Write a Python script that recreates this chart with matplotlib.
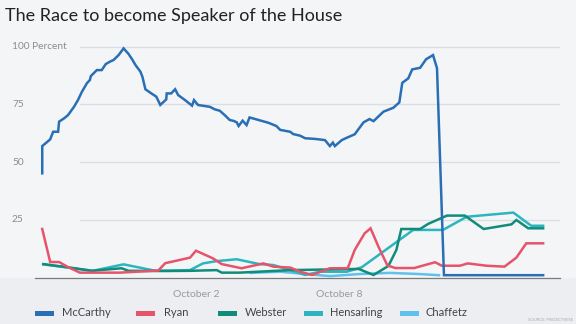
import matplotlib

matplotlib.use("Agg")

import matplotlib.pyplot as plt
from matplotlib.patches import Rectangle
from matplotlib.transforms import blended_transform_factory

plt.rcParams["font.family"] = ["Lato", "DejaVu Sans"]

# hours since the race opened (Sept 25, ~13:00) and implied chance in percent
mccarthy_hours = [0, 0, 8, 11, 16, 17, 22, 26, 32, 36, 40, 45, 48, 49, 55, 60, 64, 68, 72, 77,
                  82, 87, 91, 94, 99, 101, 104, 110, 115, 119, 125, 125.5, 130, 134, 137, 144,
                  151, 153, 157, 169, 174, 179, 184, 189, 193, 196, 198, 202, 206, 209, 218,
                  228, 236, 240, 250, 253, 260, 265, 275, 285, 290, 293, 295, 302, 307, 315,
                  324, 330, 334, 344, 354, 360, 363, 369, 373, 381, 387, 394, 398, 405, 505]
mccarthy = [45.1, 56.9, 59.8, 63.1, 63.1, 67.5, 68.9, 70.3, 73.9, 76.8, 80.4, 84.1, 85.5, 87.2,
            89.8, 89.8, 92.4, 93.4, 94.2, 96.3, 99.2, 96.8, 94.2, 92.0, 89.1, 86.9, 81.5, 79.7,
            78.3, 74.7, 77.1, 79.7, 79.7, 81.5, 79.0, 76.8, 74.4, 76.8, 74.7, 73.9, 72.8, 72.2,
            70.3, 68.2, 67.8, 67.2, 65.6, 67.9, 66.0, 69.3, 68.2, 67.0, 65.6, 63.9, 63.1, 62.1,
            61.4, 60.3, 60.0, 59.5, 56.9, 58.4, 56.9, 59.5, 60.5, 62.0, 67.2, 68.6, 67.7, 71.8,
            73.5, 75.8, 84.3, 86.2, 90.1, 90.8, 94.5, 96.3, 90.6, 1.0, 1.0]

ryan_hours = [0, 8, 17, 26, 38, 78, 117, 124, 149, 155, 172, 181, 201, 223, 233, 250, 260, 272,
              290, 308, 315, 325, 331, 339, 348, 356, 375, 396, 403, 421, 429, 448, 466, 478,
              488, 505]
ryan = [21.0, 6.7, 6.7, 4.5, 2.1, 2.1, 3.0, 6.2, 8.6, 11.6, 8.3, 5.8, 4.0, 6.1, 4.7, 4.3, 2.5,
        1.1, 4.0, 4.0, 11.9, 19.1, 21.3, 13.3, 5.2, 4.1, 4.1, 6.6, 5.1, 5.1, 6.1, 5.1, 4.7, 8.6,
        14.8, 14.8]

webster_hours = [1, 26, 50, 80, 87, 124, 149, 176, 181, 199, 250, 319, 334, 349, 357, 362, 381,
                 389, 408, 426, 445, 473, 478, 490, 505]
webster = [5.8, 4.4, 2.9, 4.0, 2.9, 2.8, 2.9, 3.2, 2.1, 2.1, 3.2, 3.7, 1.1, 5.0, 11.9, 21.0,
           21.0, 23.2, 26.8, 26.8, 21.0, 23.0, 24.9, 21.3, 21.3]

hensarling_hours = [1, 51, 82, 114, 149, 162, 176, 196, 219, 233, 250, 265, 280, 307, 322, 374,
                    404, 428, 475, 493, 505]
hensarling = [5.7, 2.9, 5.7, 2.9, 3.2, 6.1, 7.1, 7.9, 5.8, 5.4, 3.2, 1.1, 2.5, 2.5, 4.4, 20.6,
              20.6, 26.3, 28.1, 22.4, 22.4]

chaffetz_hours = [210, 240, 265, 290, 320, 350, 380, 400]
chaffetz = [2.0, 2.5, 1.5, 0.6, 1.5, 2.0, 1.5, 1.0]

names = ["McCarthy", "Ryan", "Webster", "Hensarling", "Chaffetz"]
colors = ["#2a6fb5", "#e6546b", "#118c7b", "#2bb6bf", "#5fc1ec"]

y_ticks = [25, 50, 75, 100]
y_labels = ["25", "50", "75", "100 Percent"]
x_ticks = [155, 299]
x_labels = ["October 2", "October 8"]

W, H = 576, 324
fig = plt.figure(figsize=(W / 100, H / 100), dpi=100)
fig.patch.set_facecolor("#f4f5f7")
# lower band behind the date labels and legend
fig.patches.append(Rectangle((0, 0), 1, (H - 278) / H, transform=fig.transFigure,
                             facecolor="#eceef1", edgecolor="none", zorder=-5))

left, right = 35 / W, 560 / W
bottom = (H - 277.5) / H
ax = fig.add_axes([left, bottom, right - left, 240.2 / H])
ax.set_facecolor("none")
ax.set_xlim(-7.3, 522)
ax.set_ylim(0, 104)

label_tr = blended_transform_factory(fig.transFigure, ax.transData)
for v, lab in zip(y_ticks, y_labels):
    ax.axhline(v, xmin=45 / 525, xmax=1, color="#dcdde0", linewidth=0.9, zorder=1)
    ax.text(12 / W, v, lab, transform=label_tr, fontsize=7.3, color="#8c8c8c",
            va="center", ha="left")

series = [
    (chaffetz_hours, chaffetz, 4),
    (hensarling_hours, hensarling, 3),
    (webster_hours, webster, 2),
    (ryan_hours, ryan, 1),
    (mccarthy_hours, mccarthy, 0),
]
for hrs, vals, i in series:
    ax.plot(hrs, vals, color=colors[i], linewidth=1.8, solid_joinstyle="miter", zorder=3 + (4 - i))

for s in ["top", "right", "left"]:
    ax.spines[s].set_visible(False)
ax.spines["bottom"].set_color("#7a7a7a")
ax.spines["bottom"].set_linewidth(0.9)
ax.set_yticks([])
ax.set_xticks(x_ticks)
ax.set_xticklabels(x_labels, fontsize=7.5, color="#9a9a9a")
ax.tick_params(axis="x", length=0, pad=9)

fig.text(5 / W, 1 - 16 / H, "The Race to become Speaker of the House", fontsize=13,
         color="#222222", va="center", ha="left")

swatch_x = [35, 136, 218, 304, 400]
label_x = [62, 164, 245, 330, 426]
ly = 313
for i, name in enumerate(names):
    fig.patches.append(Rectangle((swatch_x[i] / W, 1 - (ly + 2.5) / H), 19 / W, 5 / H,
                                 transform=fig.transFigure, facecolor=colors[i],
                                 edgecolor="none", zorder=2))
    fig.text(label_x[i] / W, 1 - ly / H, name, fontsize=8, color="#444444",
             va="center", ha="left")

fig.text(573 / W, 1 - 320 / H, "SOURCE: PREDICTWISE", fontsize=3, color="#aaaaaa",
         va="center", ha="right")

fig.savefig("out.png", dpi=100, facecolor=fig.get_facecolor())
